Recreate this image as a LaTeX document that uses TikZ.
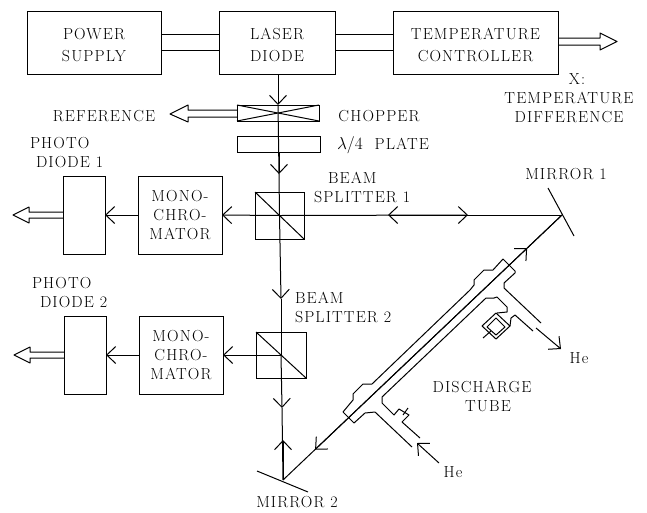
\documentclass[tikz,border=0pt]{standalone}
\usepackage{fontspec}
\setmainfont{Latin Modern Roman}[LetterSpace=7]
\usetikzlibrary{arrows.meta,calc}
\newcommand{\topgap}{\rule{0pt}{17pt}}
\tikzset{
  ln/.style={line width=1pt,line join=round},
  arr/.style={ln,-{Straight Barb[length=9pt,width=17pt,line width=1pt]}},
  box/.style={draw,line width=1pt,inner sep=0pt,outer sep=0pt,align=center},
  big/.style={box,font=\fontsize{16}{22}\selectfont},
  mono/.style={box,font=\fontsize{16}{19}\selectfont},
  lab/.style={inner sep=0pt,outer sep=0pt,align=center,font=\fontsize{16}{19}\selectfont},
  lableft/.style={lab,align=left},
}
\begin{document}
\begin{tikzpicture}[x=1pt,y=-1pt]
\useasboundingbox (0,0) rectangle (647,512);
% block boxes
\node[big,minimum width=134pt,minimum height=63pt] (ps) at (94,42.5) {\topgap POWER\\SUPPLY};
\node[big,minimum width=116pt,minimum height=63pt] (ld) at (277,42.5) {\topgap LASER\\DIODE};
\node[big,minimum width=165pt,minimum height=63pt] (tc) at (475.5,42.5) {\topgap TEMPERATURE\\CONTROLLER};
\draw[ln] ([yshift=8pt]ps.east) -- ([yshift=8pt]ld.west);
\draw[ln] ([yshift=-8pt]ps.east) -- ([yshift=-8pt]ld.west);
\draw[ln] ([yshift=8pt]ld.east) -- ([yshift=8pt]tc.west);
\draw[ln] ([yshift=-8pt]ld.east) -- ([yshift=-8pt]tc.west);
% chopper, plate
\node[box,minimum width=82pt,minimum height=16pt] (ch) at (278,113) {};
\node[box,minimum width=83pt,minimum height=16pt] (pl) at (278.5,144) {};
\draw[ln] (ch.north west) -- (ch.south east) (ch.south west) -- (ch.north east);
% splitters
\node[box,minimum width=49pt,minimum height=47pt] (bs1) at (279.5,215.5) {};
\node[box,minimum width=50pt,minimum height=46pt] (bs2) at (281,355) {};
\draw[ln] (bs1.north west) -- (bs1.south east);
\draw[ln] (bs2.north west) -- (bs2.south east);
% monochromators, diodes
\node[mono,minimum width=84pt,minimum height=78pt] (m1) at (180,215) {MONO-\\CHRO-\\MATOR};
\node[mono,minimum width=84pt,minimum height=78pt] (m2) at (181,355) {MONO-\\CHRO-\\MATOR};
\node[box,minimum width=42pt,minimum height=78pt] (pd1) at (84,215) {};
\node[box,minimum width=42pt,minimum height=78pt] (pd2) at (85,355) {};
% beam coordinates
\coordinate (mir1) at (562,215);
\coordinate (mir2) at (283,480);
\coordinate (a1) at (278,105);
\coordinate (a2) at (279,174);
\coordinate (a3) at (281,299);
\coordinate (a4) at (282,408);
\coordinate (a5) at (283,440);
\coordinate (a6) at (468,215);
\coordinate (a6b) at (388,215);
\coordinate (a7) at ($(mir1)!0.125!(mir2)$);
\coordinate (a8) at ($(mir1)!0.885!(mir2)$);
% beams
\draw[arr] (ld.south -| a1) -- (a1);
\draw[ln] (a1) -- (a2);
\draw[arr] (pl.south -| a2) -- (a2);
\draw[ln] (a2) -- (bs1.center);
\draw[arr] (bs1.center) -- (a3);
\draw[ln] (a3) -- (bs2.center);
\draw[arr] (bs2.center) -- (a4);
\draw[ln] (a4) -- (mir2);
\draw[arr] (mir2) -- (a5);
\draw[arr] (bs1.center) -- (m1.east);
\draw[arr] (m1.west) -- (pd1.east);
\draw[arr] (bs2.center) -- (m2.east);
\draw[arr] (m2.west) -- (pd2.east);
\draw[arr] (bs1.center) -- (a6);
\draw[arr] (mir1) -- (a6b);
\draw[arr] (mir2) -- (a7);
\draw[ln] (a7) -- (mir1);
\draw[arr] (mir1) -- (a8);
% mirrors
\coordinate (m1a) at (548,188);
\coordinate (m1b) at (574,236);
\coordinate (m2a) at (257,471);
\coordinate (m2b) at (308,492);
\draw[ln] (m1a) -- (m1b);
\draw[ln] (m2a) -- (m2b);
% hollow output arrows
\draw[ln] ([yshift=4.5pt]tc.east) -- (600,38) -- (600,33) -- (617,41.5) -- (600,50) -- (600,45) -- ([yshift=-2.5pt]tc.east);
\draw[ln] ([yshift=3pt]ch.west) -- (188,110) -- (188,105) -- (170,114) -- (188,122) -- (188,117) -- ([yshift=-4pt]ch.west);
\draw[ln] ([yshift=3pt]pd1.west) -- (29,212) -- (29,207) -- (13,215) -- (29,223) -- (29,218) -- ([yshift=-3pt]pd1.west);
\draw[ln] ([yshift=3pt]pd2.west) -- (30,352) -- (30,347) -- (14,355) -- (30,363) -- (30,358) -- ([yshift=-3pt]pd2.west);
% discharge tube
\draw[ln] (343,412) -- (353,400) -- (353,394) -- (363,384) -- (372,384) -- (470,290) -- (474,285) -- (474,280) -- (484,270) -- (493,270) -- (503,259) -- (515,271) -- (515,273) -- (504,283) -- (504,288) -- (541,323);
\draw[ln] (343,412) -- (354,423) -- (365,413) -- (375,412) -- (412,447);
\draw[ln] (420,438) -- (402,422) -- (409,415) -- (399,409) -- (394,415) -- (382,403) -- (382,397) -- (486,298) -- (494,298) -- (497,297) -- (507,307) -- (507,312) -- (497,313);
\draw[ln] (403,415) -- (408,408);
\draw[ln] (496,313) -- (482,326) -- (496,339) -- (510,326) -- cycle;
\draw[ln] (496,318) -- (487,327) -- (496,335) -- (505,327) -- cycle;
\draw[ln] (510,326) -- (511,318) -- (515,315) -- (533,331);
\draw[ln] (483,338) -- (491,331);
\coordinate (he1s) at (536,328);
\coordinate (he1t) at (561,349);
\coordinate (he2s) at (439,463);
\coordinate (he2t) at (417,443);
\draw[arr] (he1s) -- (he1t);
\draw[arr] (he2s) -- (he2t);
% labels
\node[lab] (t1) at (104,116) {REFERENCE};
\node[lab] (t2) at (379,116) {CHOPPER};
\node[lab] (t3) at (383,145) {$\lambda/4$\ \ PLATE};
\node[lab] (t4) at (569,98) {\hspace*{16pt}X:\\TEMPERATURE\\DIFFERENCE};
\node[lableft,anchor=west] (t5) at (30,153) {PHOTO\\\hspace*{6pt}DIODE 1};
\node[lableft,anchor=west] (t6) at (32,293) {PHOTO\\\hspace*{8pt}DIODE 2};
\node[lab,anchor=west] (t7) at (328,178) {BEAM};
\node[lab,anchor=west] (t7b) at (314,197) {SPLITTER 1};
\node[lableft,anchor=west] (t8) at (295,307) {BEAM\\SPLITTER 2};
\node[lab] (t9) at (566,174) {MIRROR 1};
\node[lab] (t10) at (297,502) {MIRROR 2};
\node[lab] (t11) at (482,396) {DISCHARGE\\\hspace*{12pt}TUBE};
\node[lab] (t12) at (579,358) {He};
\node[lab] (t13) at (453,472) {He};
\end{tikzpicture}
\end{document}
